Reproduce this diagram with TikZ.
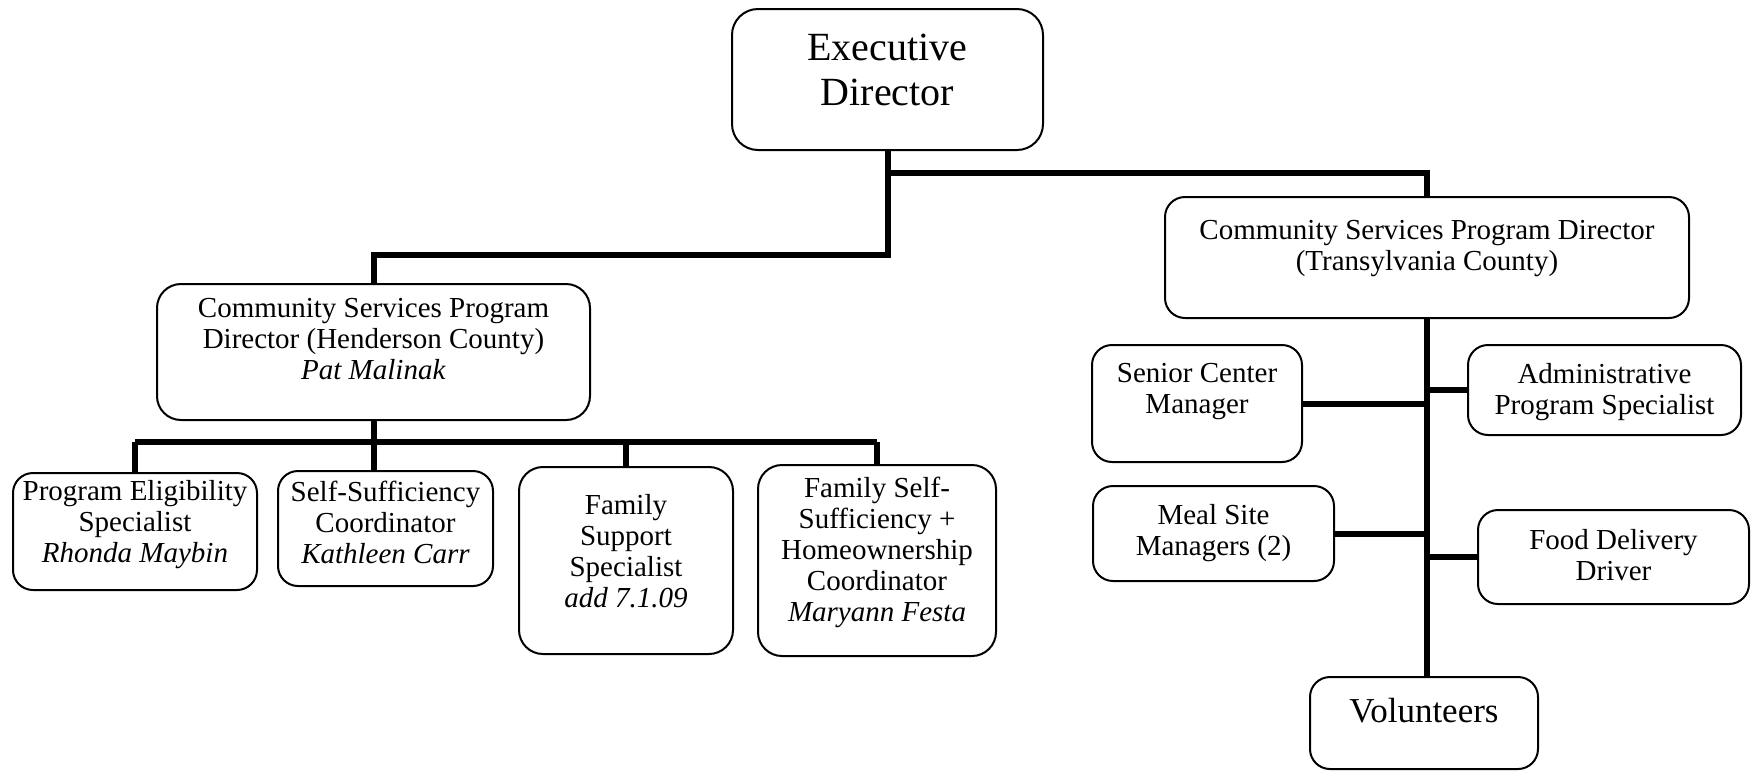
\documentclass[tikz,border=0pt]{standalone}
\usepackage{fontspec}
\setmainfont{Liberation Serif}
\begin{document}
\begin{tikzpicture}[x=0.5pt,y=-0.5pt,
  box/.style={draw=black,line width=1pt,rounded corners=10pt,inner sep=0pt},
  txt/.style={align=center,inner sep=0pt,font=\fontsize{14.5}{15.5}\selectfont},
  bigtxt/.style={align=center,inner sep=0pt,font=\fontsize{20}{22.5}\selectfont},
  conn/.style={draw=black,line width=3pt}]
\useasboundingbox (0,0) rectangle (1753,772);
% boxes
\node[box,minimum width=155.5pt,minimum height=70.5pt,rounded corners=13pt] (exec) at (887.5,79.5) {};
\node[box,minimum width=216.5pt,minimum height=68pt,rounded corners=12pt] (hend) at (373.5,352) {};
\node[box,minimum width=122pt,minimum height=58.5pt] (pes) at (135,531.5) {};
\node[box,minimum width=107.5pt,minimum height=57.5pt] (ssc) at (385.5,528.5) {};
\node[box,minimum width=107pt,minimum height=93.5pt,rounded corners=12pt] (fss) at (626,560.5) {};
\node[box,minimum width=119pt,minimum height=95.5pt,rounded corners=12pt] (fsh) at (877,560.5) {};
\node[box,minimum width=262pt,minimum height=60.5pt] (trans) at (1427,257.5) {};
\node[box,minimum width=105pt,minimum height=58.5pt] (scm) at (1197,403.5) {};
\node[box,minimum width=136.5pt,minimum height=45pt] (aps) at (1604.5,390) {};
\node[box,minimum width=120.5pt,minimum height=47.5pt] (msm) at (1213.5,533.5) {};
\node[box,minimum width=135.5pt,minimum height=47pt] (fdd) at (1613.5,557) {};
\node[box,minimum width=114pt,minimum height=46pt] (vol) at (1424,723) {};
% texts
\node[bigtxt] at (887.5,70) {Executive\\Director};
\node[txt] at (373.5,339) {Community Services Program\\Director (Henderson County)\\\textit{Pat Malinak}};
\node[txt] at (135,525) {Program Eligibility\\Specialist\\\textit{Rhonda Maybin}};
\node[txt] at (385.5,522) {Self-Sufficiency\\Coordinator\\\textit{Kathleen Carr}};
\node[txt] at (626,551) {Family\\Support\\Specialist\\\textit{add 7.1.09}};
\node[txt] at (877,552) {Family Self-\\Sufficiency +\\Homeownership\\Coordinator\\\textit{Maryann Festa}};
\node[txt] at (1427,249) {Community Services Program Director\\(Transylvania County)};
\node[txt] at (1197,392) {Senior Center\\Manager};
\node[txt] at (1604.5,392) {Administrative\\Program Specialist};
\node[txt] at (1213.5,533) {Meal Site\\Managers (2)};
\node[txt] at (1613.5,555) {Food Delivery\\Driver};
\node[align=center,inner sep=0pt,font=\fontsize{17.5}{19}\selectfont] at (1424,711) {Volunteers};
% connectors
\draw[conn] (exec.south) -- (exec.south |- 0,173) -| (trans.north);
\draw[conn] (exec.south) -- (exec.south |- 0,255) -| (hend.north);
\draw[conn] (hend.south) -- (hend.south |- ssc.north);
\draw[conn] (pes.north |- 0,442) -- (fsh.north |- 0,442);
\draw[conn] (pes.north |- 0,442) -- (pes.north);
\draw[conn] (fss.north |- 0,442) -- (fss.north);
\draw[conn] (fsh.north |- 0,442) -- (fsh.north);
\draw[conn] (trans.south) -- (trans.south |- vol.north);
\draw[conn] (scm.east) -- (scm.east -| trans.south);
\draw[conn] (aps.west) -- (aps.west -| trans.south);
\draw[conn] (msm.east) -- (msm.east -| trans.south);
\draw[conn] (fdd.west) -- (fdd.west -| trans.south);
\end{tikzpicture}
\end{document}
